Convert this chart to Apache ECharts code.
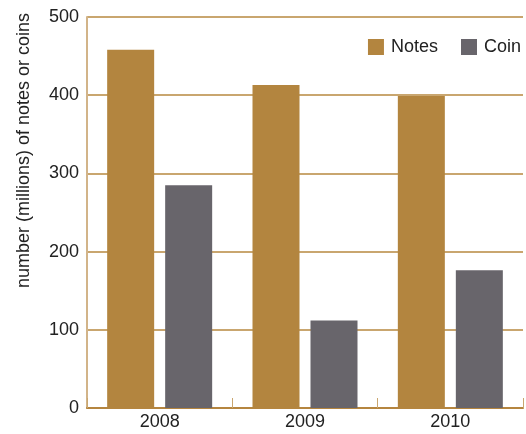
<!DOCTYPE html>
<html>
<head>
<meta charset="utf-8">
<script src="https://cdn.jsdelivr.net/npm/echarts@6/dist/echarts.min.js"></script>
<style>
html,body{margin:0;padding:0;background:#fff;}
#chart{width:526px;height:434px;}
</style>
</head>
<body>
<div id="chart"></div>
<script>
const categories = ['2008', '2009', '2010'];
const notes = [458, 413, 399];
const coin = [285, 112, 176];
const yTicks = [0, 100, 200, 300, 400, 500];
const yTitle = 'number (millions) of notes or coins';

const FONT = 'Liberation Sans, Arial, sans-serif';
const chart = echarts.init(document.getElementById('chart'), null, {renderer: 'canvas'});
chart.setOption({
  animation: false,
  textStyle: {fontFamily: FONT},
  grid: {left: 87, right: 3, top: 17, bottom: 26, containLabel: false, outerBoundsMode: 'none'},
  legend: {
    right: 0, top: 33,
    itemWidth: 16, itemHeight: 16, itemGap: 23,
    icon: 'rect',
    textStyle: {fontSize: 18, color: '#222', padding: [0, 0, 0, 2]},
    data: ['Notes', 'Coin']
  },
  graphic: [{
    type: 'text',
    left: 15, top: 13,
    rotation: Math.PI / 2,
    style: {text: yTitle, font: '18px ' + FONT, fill: '#222'}
  }],
  xAxis: {
    type: 'category',
    data: categories,
    axisLine: {show: true, lineStyle: {color: '#b5853f', width: 2}},
    axisTick: {show: true, inside: true, length: 10, lineStyle: {color: '#c9a66f', width: 1}},
    axisLabel: {fontSize: 18, color: '#222', margin: 5}
  },
  yAxis: {
    type: 'value',
    min: yTicks[0], max: yTicks[yTicks.length - 1], interval: 100,
    axisLine: {show: true, lineStyle: {color: '#d2b489', width: 2}},
    axisTick: {show: false},
    axisLabel: {fontSize: 18, color: '#222', margin: 8},
    splitLine: {show: true, lineStyle: {color: '#c9a66f', width: 2}}
  },
  series: [
    {name: 'Notes', type: 'bar', data: notes, barWidth: 47, barGap: '23.4%',
     itemStyle: {color: '#b3853f'}},
    {name: 'Coin', type: 'bar', data: coin, barWidth: 47,
     itemStyle: {color: '#68656b'}}
  ]
});
</script>
</body>
</html>
